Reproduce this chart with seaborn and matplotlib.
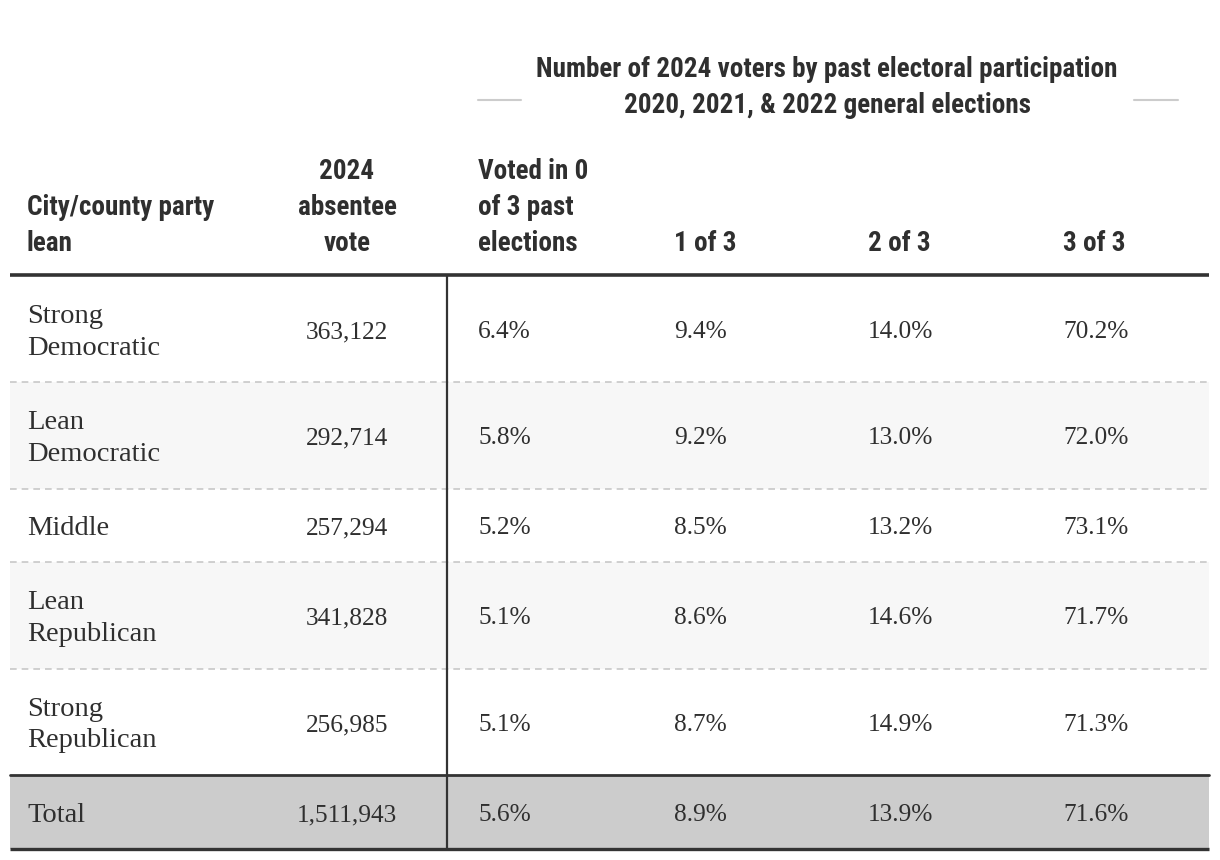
import numpy as np
import pandas as pd
import seaborn as sns
from matplotlib import pyplot as plt
from matplotlib import font_manager

# table data
leans = ["Strong\nDemocratic", "Lean\nDemocratic", "Middle", "Lean\nRepublican", "Strong\nRepublican", "Total"]
absentee = [363122, 292714, 257294, 341828, 256985, 1511943]
voted_0 = [6.4, 5.8, 5.2, 5.1, 5.1, 5.6]
voted_1 = [9.4, 9.2, 8.5, 8.6, 8.7, 8.9]
voted_2 = [14.0, 13.0, 13.2, 14.6, 14.9, 13.9]
voted_3 = [70.2, 72.0, 73.1, 71.7, 71.3, 71.6]
col_heads = ["Voted in 0\nof 3 past\nelections", "1 of 3", "2 of 3", "3 of 3"]
spanner = "Number of 2024 voters by past electoral participation\n2020, 2021, & 2022 general elections"

table = pd.DataFrame({"lean": leans, "absentee": absentee,
                      "v0": voted_0, "v1": voted_1, "v2": voted_2, "v3": voted_3})

sns.set_theme(style="white")
installed = {f.name for f in font_manager.fontManager.ttflist}
head_font = next((f for f in ["Roboto Condensed", "Liberation Sans Narrow", "Roboto"] if f in installed), "DejaVu Sans")
body_font = next((f for f in ["Liberation Serif", "DejaVu Serif"] if f in installed), "DejaVu Serif")

ink = "#2f2f2f"
fig = plt.figure(figsize=(12.2, 8.6), dpi=100)
ax = fig.add_axes([0, 0, 1, 1])
ax.set_xlim(0, 1220)
ax.set_ylim(860, 0)
ax.axis("off")

# layout (pixels)
left, right = 10, 1209
row_edges = [277, 382, 489, 562, 669, 775, 849]
band = ["white", "#f7f7f7", "white", "#f7f7f7", "white", "#cccccc"]
x_lean, x_abs, x_pct = 27, 347, [478, 674, 868, 1063]
divider_x = 447

# row backgrounds
for i in range(len(table)):
    ax.fill_between([left, right], row_edges[i], row_edges[i + 1], color=band[i], lw=0, zorder=0)

# separators
ax.plot([left, right], [275, 275], color="#333333", lw=2.6, solid_capstyle="butt")
for y in row_edges[1:5]:
    ax.plot([left, right], [y, y], color="#c8c8c8", lw=1.2, ls=(0, (4, 3)))
ax.plot([left, right], [row_edges[5], row_edges[5]], color="#333333", lw=2)
ax.plot([left, right], [row_edges[6], row_edges[6]], color="#333333", lw=2.4, solid_capstyle="butt")
ax.plot([divider_x, divider_x], [276, 849], color="#333333", lw=1.6)

# header
hkw = dict(family=head_font, fontweight="bold", fontsize=19.5, color=ink, va="bottom", linespacing=1.43)
ax.text(x_lean, 257, "City/county party\nlean", ha="left", **hkw)
ax.text(x_abs, 257, "2024\nabsentee\nvote", ha="center", **hkw)
for x, lab in zip(x_pct, col_heads):
    ax.text(x, 257, lab, ha="left", **hkw)

ax.text(827, 87.5, spanner, ha="center", va="center", family=head_font, fontweight="bold",
        fontsize=19.5, color=ink, linespacing=1.43)
ax.plot([478, 521], [100, 100], color="#cccccc", lw=1.5)
ax.plot([1134, 1178], [100, 100], color="#cccccc", lw=1.5)

# body cells
lkw = dict(family=body_font, fontsize=20.5, color=ink, va="center", linespacing=1.36)
nkw = dict(family=body_font, fontsize=18.3, color=ink, va="center")
for i, r in table.iterrows():
    yc = (row_edges[i] + row_edges[i + 1]) / 2 + 3
    ax.text(x_lean, yc, r["lean"], ha="left", **lkw)
    ax.text(x_abs, yc, f"{r['absentee']:,}", ha="center", **nkw)
    for x, key in zip(x_pct, ["v0", "v1", "v2", "v3"]):
        ax.text(x, yc, f"{r[key]:.1f}%", ha="left", **nkw)

fig.savefig("out.png", dpi=100, facecolor="white")
